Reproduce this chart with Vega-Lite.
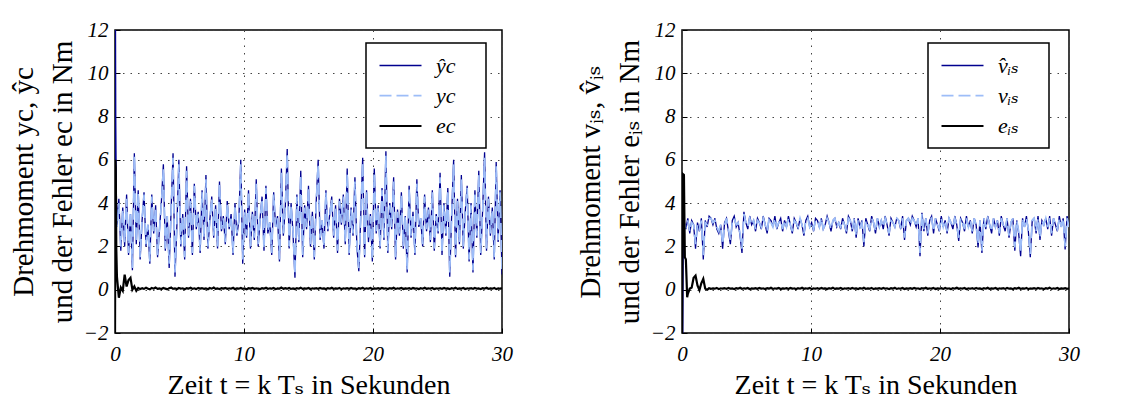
{
"$schema": "https://vega.github.io/schema/vega-lite/v6.json",
"padding": {"left": 8, "top": 18, "right": 5, "bottom": 0},
"spacing": 180,
"bounds": "flush",
"datasets": {
"left": [
{"t":0,"a":-3,"b":3.2,"e":-2.5},{"t":0.03,"a":14,"e":6.0},{"t":0.06,"a":7.8,"e":5.6},{"t":0.1,"a":4.6,"b":3.3,"e":1.9},
{"t":0.15,"a":3.0,"b":2.9,"e":0.6},{"t":0.3,"a":4.2,"b":4.0,"e":-0.37},{"t":0.45,"a":1.8,"b":2.0,"e":0.1},{"t":0.6,"a":3.8,"b":3.7,"e":-0.05},{"t":0.75,"a":2.0,"b":2.2,"e":0.7},
{"t":0.9,"a":4.4,"b":4.2,"e":0.15},{"t":1.05,"a":1.6,"b":1.7,"e":0.45},{"t":1.2,"a":3.5,"b":3.6,"e":0.55},{"t":1.35,"a":0.9,"b":1.0,"e":0.0},{"t":1.5,"a":6.3,"b":6.2,"e":0.15},
{"t":1.65,"a":2.1,"b":2.2,"e":-0.05},{"t":1.8,"a":4.6,"b":4.5,"e":0.08},{"t":1.95,"a":1.4,"b":1.5,"e":0.03},{"t":2.1,"a":3.2,"b":3.3,"e":0.07},{"t":2.25,"a":4.5,"b":4.4,"e":0.04},
{"t":2.4,"a":2.0,"b":2.1,"e":0.09},{"t":2.55,"a":3.0,"b":3.0,"e":0.05},{"t":2.7,"a":1.2,"b":1.3,"e":0.02},{"t":2.85,"a":4.4,"b":4.3,"e":0.08},{"t":3.0,"a":2.6,"b":2.7,"e":0.05},
{"t":3.15,"a":3.9,"b":3.8,"e":0.1},{"t":3.3,"a":1.5,"b":1.6,"e":0.04},{"t":3.45,"a":2.8,"b":2.8,"e":0.06},{"t":3.6,"a":4.1,"b":4.0,"e":0.03},{"t":3.75,"a":5.8,"b":5.6,"e":0.08},
{"t":3.9,"a":1.8,"b":1.9,"e":0.05},{"t":4.05,"a":3.4,"b":3.4,"e":0.02},{"t":4.2,"a":1.0,"b":1.2,"e":0.07},{"t":4.35,"a":3.7,"b":3.6,"e":0.1},{"t":4.5,"a":6.3,"b":6.1,"e":0.04},
{"t":4.65,"a":0.6,"b":0.8,"e":0.06},{"t":4.8,"a":3.0,"b":3.1,"e":0.03},{"t":4.95,"a":6.0,"b":5.8,"e":0.08},{"t":5.1,"a":2.0,"b":2.1,"e":0.05},{"t":5.25,"a":3.5,"b":3.4,"e":0.06},
{"t":5.4,"a":1.4,"b":1.5,"e":0.02},{"t":5.55,"a":5.7,"b":5.5,"e":0.07},{"t":5.7,"a":2.4,"b":2.5,"e":0.05},{"t":5.85,"a":4.2,"b":4.1,"e":0.09},{"t":6.0,"a":1.6,"b":1.7,"e":0.04},
{"t":6.15,"a":4.9,"b":4.8,"e":0.06},{"t":6.3,"a":2.8,"b":2.9,"e":0.03},{"t":6.45,"a":3.6,"b":3.5,"e":0.08},{"t":6.6,"a":1.7,"b":1.8,"e":0.05},{"t":6.75,"a":4.6,"b":4.5,"e":0.07},
{"t":6.9,"a":2.3,"b":2.4,"e":0.04},{"t":7.05,"a":5.3,"b":5.1,"e":0.06},{"t":7.2,"a":1.9,"b":2.0,"e":0.02},{"t":7.35,"a":3.2,"b":3.2,"e":0.08},{"t":7.5,"a":4.3,"b":4.2,"e":0.05},
{"t":7.65,"a":2.4,"b":2.5,"e":0.1},{"t":7.8,"a":3.9,"b":3.8,"e":0.04},{"t":7.95,"a":1.9,"b":2.0,"e":0.06},{"t":8.1,"a":5.0,"b":4.9,"e":0.03},{"t":8.25,"a":2.7,"b":2.8,"e":0.07},
{"t":8.4,"a":3.4,"b":3.3,"e":0.05},{"t":8.55,"a":2.1,"b":2.2,"e":0.08},{"t":8.7,"a":4.1,"b":4.0,"e":0.04},{"t":8.85,"a":2.8,"b":2.9,"e":0.06},{"t":9.0,"a":3.5,"b":3.4,"e":0.05},
{"t":9.15,"a":1.6,"b":1.7,"e":0.09},{"t":9.3,"a":4.0,"b":3.9,"e":0.03},{"t":9.45,"a":2.5,"b":2.6,"e":0.06},{"t":9.6,"a":3.2,"b":3.2,"e":0.05},{"t":9.75,"a":6.0,"b":5.8,"e":0.08},
{"t":9.9,"a":1.2,"b":1.4,"e":0.04},{"t":10.05,"a":3.7,"b":3.6,"e":0.06},{"t":10.2,"a":2.4,"b":2.5,"e":0.02},{"t":10.35,"a":4.6,"b":4.5,"e":0.07},{"t":10.5,"a":1.9,"b":2.0,"e":0.05},
{"t":10.65,"a":3.6,"b":3.5,"e":0.08},{"t":10.8,"a":2.3,"b":2.4,"e":0.04},{"t":10.95,"a":5.1,"b":4.9,"e":0.06},{"t":11.1,"a":2.0,"b":2.1,"e":0.05},{"t":11.25,"a":3.3,"b":3.3,"e":0.03},
{"t":11.4,"a":4.3,"b":4.2,"e":0.07},{"t":11.55,"a":1.8,"b":1.9,"e":0.05},{"t":11.7,"a":4.8,"b":4.7,"e":0.09},{"t":11.85,"a":2.6,"b":2.7,"e":0.04},{"t":12.0,"a":3.1,"b":3.1,"e":0.06},
{"t":12.15,"a":1.6,"b":1.7,"e":0.05},{"t":12.3,"a":4.5,"b":4.4,"e":0.08},{"t":12.45,"a":2.9,"b":2.9,"e":0.03},{"t":12.6,"a":3.4,"b":3.3,"e":0.06},{"t":12.75,"a":1.3,"b":1.4,"e":0.05},
{"t":12.9,"a":5.6,"b":5.4,"e":0.1},{"t":13.05,"a":2.5,"b":2.6,"e":0.04},{"t":13.2,"a":3.8,"b":3.7,"e":0.07},{"t":13.35,"a":6.5,"b":6.3,"e":0.05},{"t":13.5,"a":1.9,"b":2.0,"e":0.08},
{"t":13.65,"a":4.0,"b":3.9,"e":0.04},{"t":13.8,"a":2.6,"b":2.7,"e":0.06},{"t":13.95,"a":0.55,"b":0.7,"e":0.03},{"t":14.1,"a":4.4,"b":4.3,"e":0.07},{"t":14.25,"a":2.2,"b":2.3,"e":0.05},
{"t":14.4,"a":5.5,"b":5.3,"e":0.09},{"t":14.55,"a":1.5,"b":1.6,"e":0.04},{"t":14.7,"a":3.9,"b":3.8,"e":0.06},{"t":14.85,"a":2.8,"b":2.9,"e":0.05},{"t":15.0,"a":4.8,"b":4.7,"e":0.08},
{"t":15.15,"a":2.0,"b":2.1,"e":0.03},{"t":15.3,"a":3.6,"b":3.5,"e":0.06},{"t":15.45,"a":1.4,"b":1.5,"e":0.05},{"t":15.6,"a":4.1,"b":4.0,"e":0.07},{"t":15.75,"a":6.0,"b":5.8,"e":0.04},
{"t":15.9,"a":2.3,"b":2.4,"e":0.08},{"t":16.05,"a":3.2,"b":3.2,"e":0.05},{"t":16.2,"a":1.9,"b":2.0,"e":0.06},{"t":16.35,"a":4.6,"b":4.5,"e":0.03},{"t":16.5,"a":2.7,"b":2.8,"e":0.07},
{"t":16.65,"a":3.5,"b":3.4,"e":0.05},{"t":16.8,"a":4.3,"b":4.2,"e":0.09},{"t":16.95,"a":2.4,"b":2.5,"e":0.04},{"t":17.1,"a":3.9,"b":3.8,"e":0.06},{"t":17.25,"a":1.7,"b":1.8,"e":0.05},
{"t":17.4,"a":4.2,"b":4.1,"e":0.08},{"t":17.55,"a":3.0,"b":3.1,"e":0.03},{"t":17.7,"a":4.4,"b":4.3,"e":0.06},{"t":17.85,"a":2.1,"b":2.2,"e":0.05},{"t":18.0,"a":5.6,"b":5.4,"e":0.07},
{"t":18.15,"a":1.6,"b":1.7,"e":0.04},{"t":18.3,"a":3.8,"b":3.7,"e":0.08},{"t":18.45,"a":2.5,"b":2.6,"e":0.05},{"t":18.6,"a":5.2,"b":5.0,"e":0.06},{"t":18.75,"a":2.0,"b":2.1,"e":0.03},
{"t":18.9,"a":0.85,"b":1.0,"e":0.07},{"t":19.05,"a":3.4,"b":3.4,"e":0.05},{"t":19.2,"a":6.1,"b":5.9,"e":0.09},{"t":19.35,"a":1.5,"b":1.6,"e":0.04},{"t":19.5,"a":4.6,"b":4.5,"e":0.06},
{"t":19.65,"a":2.2,"b":2.3,"e":0.05},{"t":19.8,"a":3.5,"b":3.4,"e":0.08},{"t":19.95,"a":1.3,"b":1.4,"e":0.03},{"t":20.1,"a":5.6,"b":5.4,"e":0.06},{"t":20.25,"a":2.6,"b":2.7,"e":0.05},
{"t":20.4,"a":3.9,"b":3.8,"e":0.07},{"t":20.55,"a":1.9,"b":2.0,"e":0.04},{"t":20.7,"a":4.7,"b":4.6,"e":0.08},{"t":20.85,"a":2.3,"b":2.4,"e":0.05},{"t":21.0,"a":6.4,"b":6.2,"e":0.06},
{"t":21.15,"a":1.7,"b":1.8,"e":0.03},{"t":21.3,"a":4.0,"b":3.9,"e":0.07},{"t":21.45,"a":2.8,"b":2.9,"e":0.05},{"t":21.6,"a":5.2,"b":5.0,"e":0.09},{"t":21.75,"a":1.4,"b":1.5,"e":0.04},
{"t":21.9,"a":3.7,"b":3.6,"e":0.06},{"t":22.05,"a":2.5,"b":2.6,"e":0.05},{"t":22.2,"a":4.5,"b":4.4,"e":0.08},{"t":22.35,"a":1.9,"b":2.0,"e":0.03},{"t":22.5,"a":3.4,"b":3.4,"e":0.06},
{"t":22.65,"a":0.8,"b":0.9,"e":0.05},{"t":22.8,"a":4.8,"b":4.7,"e":0.07},{"t":22.95,"a":2.4,"b":2.5,"e":0.04},{"t":23.1,"a":3.6,"b":3.5,"e":0.08},{"t":23.25,"a":1.6,"b":1.7,"e":0.05},
{"t":23.4,"a":5.1,"b":4.9,"e":0.06},{"t":23.55,"a":2.9,"b":3.0,"e":0.03},{"t":23.7,"a":3.3,"b":3.3,"e":0.07},{"t":23.85,"a":2.0,"b":2.1,"e":0.05},{"t":24.0,"a":4.4,"b":4.3,"e":0.09},
{"t":24.15,"a":2.7,"b":2.8,"e":0.04},{"t":24.3,"a":3.8,"b":3.7,"e":0.06},{"t":24.45,"a":2.2,"b":2.3,"e":0.05},{"t":24.6,"a":4.6,"b":4.5,"e":0.08},{"t":24.75,"a":1.8,"b":1.9,"e":0.03},
{"t":24.9,"a":3.5,"b":3.4,"e":0.06},{"t":25.05,"a":2.6,"b":2.7,"e":0.05},{"t":25.2,"a":5.4,"b":5.2,"e":0.07},{"t":25.35,"a":1.6,"b":1.7,"e":0.04},{"t":25.5,"a":4.0,"b":3.9,"e":0.08},
{"t":25.65,"a":2.5,"b":2.6,"e":0.05},{"t":25.8,"a":4.7,"b":4.6,"e":0.06},{"t":25.95,"a":0.6,"b":0.8,"e":0.03},{"t":26.1,"a":3.5,"b":3.4,"e":0.07},{"t":26.25,"a":6.0,"b":5.8,"e":0.05},
{"t":26.4,"a":1.5,"b":1.6,"e":0.09},{"t":26.55,"a":4.2,"b":4.1,"e":0.04},{"t":26.7,"a":2.1,"b":2.2,"e":0.06},{"t":26.85,"a":5.3,"b":5.1,"e":0.05},{"t":27.0,"a":1.9,"b":2.0,"e":0.08},
{"t":27.15,"a":3.6,"b":3.5,"e":0.03},{"t":27.3,"a":4.8,"b":4.7,"e":0.06},{"t":27.45,"a":1.3,"b":1.4,"e":0.05},{"t":27.6,"a":4.0,"b":3.9,"e":0.07},{"t":27.75,"a":0.8,"b":0.9,"e":0.04},
{"t":27.9,"a":4.6,"b":4.5,"e":0.08},{"t":28.05,"a":2.4,"b":2.5,"e":0.05},{"t":28.2,"a":5.5,"b":5.3,"e":0.06},{"t":28.35,"a":1.6,"b":1.7,"e":0.03},{"t":28.5,"a":3.7,"b":3.6,"e":0.07},
{"t":28.65,"a":6.35,"b":6.1,"e":0.05},{"t":28.8,"a":1.8,"b":1.9,"e":0.09},{"t":28.95,"a":4.3,"b":4.2,"e":0.04},{"t":29.1,"a":2.5,"b":2.6,"e":0.06},{"t":29.25,"a":3.8,"b":3.7,"e":0.05},
{"t":29.4,"a":1.4,"b":1.5,"e":0.08},{"t":29.55,"a":5.9,"b":5.7,"e":0.03},{"t":29.7,"a":2.2,"b":2.3,"e":0.06},{"t":29.85,"a":4.6,"b":4.5,"e":0.05},{"t":30.0,"a":0.7,"b":0.9,"e":0.07}
],
"right": [
{"t":0,"a":3.8,"b":3.4,"e":-2.5},{"t":0.06,"a":-2.6,"e":5.35},{"t":0.11,"a":3.5,"b":3.3},
{"t":0.15,"a":3.2,"b":3.1,"e":5.3},{"t":0.22,"e":1.5},{"t":0.3,"a":2.8,"b":2.9,"e":1.4},{"t":0.4,"e":-0.35},{"t":0.45,"a":3.3,"b":3.2,"e":-0.2},{"t":0.6,"a":2.6,"b":2.7,"e":0.05},{"t":0.75,"a":3.2,"b":3.1,"e":0.1},
{"t":0.9,"a":3.0,"b":3.0,"e":0.55},{"t":1.05,"a":1.9,"b":2.1,"e":0.65},{"t":1.2,"a":3.1,"b":3.0,"e":0.2},{"t":1.35,"a":2.7,"b":2.8,"e":-0.02},{"t":1.5,"a":3.3,"b":3.2,"e":0.3},
{"t":1.65,"a":1.4,"b":1.6,"e":0.5},{"t":1.8,"a":3.2,"b":3.1,"e":0.05},{"t":1.95,"a":2.9,"b":3.0,"e":0.0},{"t":2.1,"a":3.4,"b":3.3,"e":0.07},{"t":2.25,"a":3.3,"b":3.3,"e":0.04},
{"t":2.4,"a":3.0,"b":3.1,"e":0.06},{"t":2.55,"a":3.3,"b":3.2,"e":0.05},{"t":2.7,"a":2.8,"b":2.9,"e":0.08},{"t":2.85,"a":2.6,"b":2.7,"e":0.03},{"t":3.0,"a":3.0,"b":3.0,"e":0.06},
{"t":3.15,"a":1.9,"b":2.1,"e":0.05},{"t":3.3,"a":3.1,"b":3.0,"e":0.07},{"t":3.45,"a":3.3,"b":3.3,"e":0.04},{"t":3.6,"a":2.7,"b":2.8,"e":0.08},{"t":3.75,"a":2.1,"b":2.3,"e":0.05},
{"t":3.9,"a":3.2,"b":3.1,"e":0.06},{"t":4.05,"a":3.4,"b":3.3,"e":0.03},{"t":4.2,"a":2.9,"b":3.0,"e":0.07},{"t":4.35,"a":3.1,"b":3.1,"e":0.05},{"t":4.5,"a":2.5,"b":2.6,"e":0.09},
{"t":4.65,"a":1.7,"b":1.9,"e":0.04},{"t":4.8,"a":3.6,"b":3.5,"e":0.06},{"t":4.95,"a":3.1,"b":3.1,"e":0.05},{"t":5.1,"a":2.8,"b":2.9,"e":0.08},{"t":5.25,"a":3.4,"b":3.3,"e":0.03},
{"t":5.4,"a":3.0,"b":3.0,"e":0.06},{"t":5.55,"a":3.2,"b":3.2,"e":0.05},{"t":5.7,"a":2.7,"b":2.8,"e":0.07},{"t":5.85,"a":3.3,"b":3.2,"e":0.04},{"t":6.0,"a":3.1,"b":3.1,"e":0.08},
{"t":6.15,"a":2.8,"b":2.9,"e":0.05},{"t":6.3,"a":3.4,"b":3.3,"e":0.06},{"t":6.45,"a":3.0,"b":3.0,"e":0.03},{"t":6.6,"a":2.6,"b":2.7,"e":0.07},{"t":6.75,"a":3.3,"b":3.3,"e":0.05},
{"t":6.9,"a":3.2,"b":3.1,"e":0.09},{"t":7.05,"a":2.9,"b":2.9,"e":0.04},{"t":7.2,"a":3.4,"b":3.3,"e":0.06},{"t":7.35,"a":2.8,"b":2.9,"e":0.05},{"t":7.5,"a":3.1,"b":3.1,"e":0.08},
{"t":7.65,"a":3.3,"b":3.2,"e":0.03},{"t":7.8,"a":2.7,"b":2.8,"e":0.06},{"t":7.95,"a":3.2,"b":3.2,"e":0.05},{"t":8.1,"a":2.9,"b":2.9,"e":0.07},{"t":8.25,"a":3.4,"b":3.3,"e":0.04},
{"t":8.4,"a":3.0,"b":3.0,"e":0.08},{"t":8.55,"a":2.6,"b":2.7,"e":0.05},{"t":8.7,"a":3.3,"b":3.2,"e":0.06},{"t":8.85,"a":3.1,"b":3.1,"e":0.03},{"t":9.0,"a":2.8,"b":2.9,"e":0.07},
{"t":9.15,"a":3.3,"b":3.3,"e":0.05},{"t":9.3,"a":3.0,"b":3.0,"e":0.09},{"t":9.45,"a":2.5,"b":2.6,"e":0.04},{"t":9.6,"a":3.2,"b":3.2,"e":0.06},{"t":9.75,"a":3.4,"b":3.3,"e":0.05},
{"t":9.9,"a":2.9,"b":2.9,"e":0.08},{"t":10.05,"a":3.1,"b":3.1,"e":0.03},{"t":10.2,"a":2.7,"b":2.8,"e":0.06},{"t":10.35,"a":3.3,"b":3.2,"e":0.05},{"t":10.5,"a":3.2,"b":3.2,"e":0.07},
{"t":10.65,"a":2.9,"b":2.9,"e":0.04},{"t":10.8,"a":3.3,"b":3.3,"e":0.08},{"t":10.95,"a":2.8,"b":2.8,"e":0.05},{"t":11.1,"a":3.0,"b":3.0,"e":0.06},{"t":11.25,"a":3.4,"b":3.3,"e":0.03},
{"t":11.4,"a":3.1,"b":3.1,"e":0.07},{"t":11.55,"a":2.7,"b":2.8,"e":0.05},{"t":11.7,"a":3.2,"b":3.2,"e":0.09},{"t":11.85,"a":3.3,"b":3.3,"e":0.04},{"t":12.0,"a":2.9,"b":2.9,"e":0.06},
{"t":12.15,"a":3.1,"b":3.1,"e":0.05},{"t":12.3,"a":2.8,"b":2.9,"e":0.08},{"t":12.45,"a":3.3,"b":3.2,"e":0.03},{"t":12.6,"a":3.0,"b":3.0,"e":0.06},{"t":12.75,"a":2.6,"b":2.7,"e":0.05},
{"t":12.9,"a":3.4,"b":3.3,"e":0.07},{"t":13.05,"a":3.2,"b":3.2,"e":0.04},{"t":13.2,"a":2.7,"b":2.8,"e":0.08},{"t":13.35,"a":3.3,"b":3.3,"e":0.05},{"t":13.5,"a":2.4,"b":2.5,"e":0.06},
{"t":13.65,"a":3.3,"b":3.2,"e":0.03},{"t":13.8,"a":2.9,"b":2.9,"e":0.07},{"t":13.95,"a":3.2,"b":3.1,"e":0.05},{"t":14.1,"a":2.0,"b":2.2,"e":0.09},{"t":14.25,"a":3.3,"b":3.2,"e":0.04},
{"t":14.4,"a":3.0,"b":3.0,"e":0.06},{"t":14.55,"a":2.7,"b":2.8,"e":0.05},{"t":14.7,"a":3.4,"b":3.3,"e":0.08},{"t":14.85,"a":3.1,"b":3.1,"e":0.03},{"t":15.0,"a":2.6,"b":2.7,"e":0.06},
{"t":15.15,"a":3.3,"b":3.3,"e":0.05},{"t":15.3,"a":2.9,"b":2.9,"e":0.07},{"t":15.45,"a":3.2,"b":3.2,"e":0.04},{"t":15.6,"a":2.8,"b":2.9,"e":0.08},{"t":15.75,"a":3.4,"b":3.3,"e":0.05},
{"t":15.9,"a":3.0,"b":3.0,"e":0.06},{"t":16.05,"a":2.5,"b":2.6,"e":0.03},{"t":16.2,"a":3.3,"b":3.2,"e":0.07},{"t":16.35,"a":3.1,"b":3.1,"e":0.05},{"t":16.5,"a":2.9,"b":2.9,"e":0.09},
{"t":16.65,"a":3.3,"b":3.3,"e":0.04},{"t":16.8,"a":3.2,"b":3.2,"e":0.06},{"t":16.95,"a":2.8,"b":2.9,"e":0.05},{"t":17.1,"a":3.4,"b":3.3,"e":0.08},{"t":17.25,"a":2.3,"b":2.4,"e":0.03},
{"t":17.4,"a":3.2,"b":3.2,"e":0.06},{"t":17.55,"a":3.3,"b":3.3,"e":0.05},{"t":17.7,"a":3.0,"b":3.0,"e":0.07},{"t":17.85,"a":3.4,"b":3.3,"e":0.04},{"t":18.0,"a":3.2,"b":3.2,"e":0.08},
{"t":18.15,"a":2.9,"b":2.9,"e":0.05},{"t":18.3,"a":3.3,"b":3.3,"e":0.06},{"t":18.45,"a":1.55,"b":1.7,"e":0.03},{"t":18.6,"a":3.55,"b":3.5,"e":0.07},{"t":18.75,"a":2.7,"b":2.8,"e":0.05},
{"t":18.9,"a":3.3,"b":3.3,"e":0.09},{"t":19.05,"a":2.5,"b":2.6,"e":0.04},{"t":19.2,"a":3.2,"b":3.2,"e":0.06},{"t":19.35,"a":3.4,"b":3.3,"e":0.05},{"t":19.5,"a":2.6,"b":2.7,"e":0.08},
{"t":19.65,"a":3.3,"b":3.3,"e":0.03},{"t":19.8,"a":3.0,"b":3.0,"e":0.06},{"t":19.95,"a":2.7,"b":2.8,"e":0.05},{"t":20.1,"a":3.4,"b":3.3,"e":0.07},{"t":20.25,"a":2.9,"b":2.9,"e":0.04},
{"t":20.4,"a":3.2,"b":3.2,"e":0.08},{"t":20.55,"a":2.6,"b":2.7,"e":0.05},{"t":20.7,"a":3.3,"b":3.3,"e":0.06},{"t":20.85,"a":3.1,"b":3.1,"e":0.03},{"t":21.0,"a":2.8,"b":2.9,"e":0.07},
{"t":21.15,"a":3.4,"b":3.3,"e":0.05},{"t":21.3,"a":3.0,"b":3.0,"e":0.09},{"t":21.45,"a":2.25,"b":2.4,"e":0.04},{"t":21.6,"a":3.3,"b":3.3,"e":0.06},{"t":21.75,"a":3.1,"b":3.1,"e":0.05},
{"t":21.9,"a":2.7,"b":2.8,"e":0.08},{"t":22.05,"a":3.4,"b":3.3,"e":0.03},{"t":22.2,"a":2.9,"b":2.9,"e":0.06},{"t":22.35,"a":3.2,"b":3.2,"e":0.05},{"t":22.5,"a":2.6,"b":2.7,"e":0.07},
{"t":22.65,"a":3.3,"b":3.3,"e":0.04},{"t":22.8,"a":3.0,"b":3.0,"e":0.08},{"t":22.95,"a":1.95,"b":2.1,"e":0.05},{"t":23.1,"a":3.2,"b":3.2,"e":0.06},{"t":23.25,"a":1.7,"b":1.8,"e":0.03},
{"t":23.4,"a":3.3,"b":3.3,"e":0.07},{"t":23.55,"a":2.8,"b":2.9,"e":0.05},{"t":23.7,"a":3.4,"b":3.3,"e":0.09},{"t":23.85,"a":3.0,"b":3.0,"e":0.04},{"t":24.0,"a":2.6,"b":2.7,"e":0.06},
{"t":24.15,"a":3.3,"b":3.3,"e":0.05},{"t":24.3,"a":2.9,"b":2.9,"e":0.08},{"t":24.45,"a":3.2,"b":3.2,"e":0.03},{"t":24.6,"a":2.5,"b":2.6,"e":0.06},{"t":24.75,"a":3.4,"b":3.3,"e":0.05},
{"t":24.9,"a":3.0,"b":3.0,"e":0.07},{"t":25.05,"a":2.7,"b":2.8,"e":0.04},{"t":25.2,"a":3.3,"b":3.3,"e":0.08},{"t":25.35,"a":2.4,"b":2.5,"e":0.05},{"t":25.5,"a":3.1,"b":3.1,"e":0.06},
{"t":25.65,"a":3.3,"b":3.3,"e":0.03},{"t":25.8,"a":1.8,"b":1.95,"e":0.07},{"t":25.95,"a":3.2,"b":3.2,"e":0.05},{"t":26.1,"a":2.6,"b":2.7,"e":0.09},{"t":26.25,"a":1.55,"b":1.7,"e":0.04},
{"t":26.4,"a":3.3,"b":3.3,"e":0.06},{"t":26.55,"a":2.9,"b":2.9,"e":0.05},{"t":26.7,"a":3.4,"b":3.3,"e":0.08},{"t":26.85,"a":2.7,"b":2.8,"e":0.03},{"t":27.0,"a":1.5,"b":1.65,"e":0.06},
{"t":27.15,"a":3.2,"b":3.2,"e":0.05},{"t":27.3,"a":3.3,"b":3.3,"e":0.07},{"t":27.45,"a":2.6,"b":2.7,"e":0.04},{"t":27.6,"a":3.4,"b":3.3,"e":0.08},{"t":27.75,"a":2.3,"b":2.4,"e":0.05},
{"t":27.9,"a":3.2,"b":3.2,"e":0.06},{"t":28.05,"a":3.0,"b":3.0,"e":0.03},{"t":28.2,"a":3.3,"b":3.3,"e":0.07},{"t":28.35,"a":2.8,"b":2.9,"e":0.05},{"t":28.5,"a":3.4,"b":3.3,"e":0.09},
{"t":28.65,"a":2.5,"b":2.6,"e":0.04},{"t":28.8,"a":3.3,"b":3.3,"e":0.06},{"t":28.95,"a":3.0,"b":3.0,"e":0.05},{"t":29.1,"a":2.7,"b":2.8,"e":0.08},{"t":29.25,"a":3.4,"b":3.3,"e":0.03},
{"t":29.4,"a":2.9,"b":2.9,"e":0.06},{"t":29.55,"a":3.3,"b":3.3,"e":0.05},{"t":29.7,"a":1.86,"b":2.0,"e":0.07},{"t":29.85,"a":3.4,"b":3.3,"e":0.04},{"t":30.0,"a":2.9,"b":2.9,"e":0.06}
]
},
"hconcat": [
{
"width": 387, "height": 303,
"data": {"name": "left"},
"transform": [{"fold": ["a","b","e"], "as": ["k","v"]}, {"filter": "isValid(datum.v)"}],
"mark": {"type": "line", "clip": true, "invalid": "filter"},
"encoding": {
"x": {"field": "t", "type": "quantitative", "scale": {"domain": [0,30], "nice": false, "zero": false}, "axis": {"values": [0,10,20,30], "title": "Zeit t = k Tₛ in Sekunden", "titleFontSize": 28, "titleY": 60, "titleBaseline": "alphabetic", "labelPadding": 15}},
"y": {"field": "v", "type": "quantitative", "scale": {"domain": [-2,12], "nice": false, "zero": false}, "axis": {"values": [-2,0,2,4,6,8,10,12], "title": ["Drehmoment yc, ŷc", "und der Fehler ec in Nm"], "titleX": -92, "titleY": 151.5, "titleAngle": -90, "titleAlign": "center", "titleBaseline": "middle", "titleLineHeight": 39, "labelPadding": 12}},
"color": {"field": "k", "type": "nominal", "scale": {"domain": ["a","b","e"], "range": ["#00008f","#9dbdf8","#000000"]}, "legend": {"title": "M", "orient": "none", "legendX": 251, "legendY": 13, "labelExpr": "datum.value == 'a' ? 'ŷc' : datum.value == 'b' ? 'yc' : 'ec'"}},
"strokeDash": {"field": "k", "type": "nominal", "scale": {"domain": ["a","b","e"], "range": [[1,0],[12,5],[1,0]]}, "legend": {"title": "M", "orient": "none", "legendX": 251, "legendY": 13, "labelExpr": "datum.value == 'a' ? 'ŷc' : datum.value == 'b' ? 'yc' : 'ec'"}},
"strokeWidth": {"field": "k", "type": "nominal", "scale": {"domain": ["a","b","e"], "range": [1.3,2.2,3.0]}, "legend": {"title": "M", "orient": "none", "legendX": 251, "legendY": 13, "labelExpr": "datum.value == 'a' ? 'ŷc' : datum.value == 'b' ? 'yc' : 'ec'"}}
}
},
{
"width": 387, "height": 303,
"data": {"name": "right"},
"transform": [{"fold": ["a","b","e"], "as": ["k","v"]}, {"filter": "isValid(datum.v)"}],
"mark": {"type": "line", "clip": true, "invalid": "filter"},
"encoding": {
"x": {"field": "t", "type": "quantitative", "scale": {"domain": [0,30], "nice": false, "zero": false}, "axis": {"values": [0,10,20,30], "title": "Zeit t = k Tₛ in Sekunden", "titleFontSize": 28, "titleY": 60, "titleBaseline": "alphabetic", "labelPadding": 15}},
"y": {"field": "v", "type": "quantitative", "scale": {"domain": [-2,12], "nice": false, "zero": false}, "axis": {"values": [-2,0,2,4,6,8,10,12], "title": ["Drehmoment vᵢₛ, v̂ᵢₛ", "und der Fehler eᵢₛ in Nm"], "titleX": -92, "titleY": 151.5, "titleAngle": -90, "titleAlign": "center", "titleBaseline": "middle", "titleLineHeight": 39, "labelPadding": 12}},
"color": {"field": "k", "type": "nominal", "scale": {"domain": ["a","b","e"], "range": ["#00008f","#9dbdf8","#000000"]}, "legend": {"title": "M", "orient": "none", "legendX": 246, "legendY": 13, "labelExpr": "datum.value == 'a' ? 'v̂ᵢₛ' : datum.value == 'b' ? 'vᵢₛ' : 'eᵢₛ'"}},
"strokeDash": {"field": "k", "type": "nominal", "scale": {"domain": ["a","b","e"], "range": [[1,0],[12,5],[1,0]]}, "legend": {"title": "M", "orient": "none", "legendX": 246, "legendY": 13, "labelExpr": "datum.value == 'a' ? 'v̂ᵢₛ' : datum.value == 'b' ? 'vᵢₛ' : 'eᵢₛ'"}},
"strokeWidth": {"field": "k", "type": "nominal", "scale": {"domain": ["a","b","e"], "range": [1.3,2.2,3.0]}, "legend": {"title": "M", "orient": "none", "legendX": 246, "legendY": 13, "labelExpr": "datum.value == 'a' ? 'v̂ᵢₛ' : datum.value == 'b' ? 'vᵢₛ' : 'eᵢₛ'"}}
}
}
],
"resolve": {"scale": {"color": "independent", "strokeDash": "independent", "strokeWidth": "independent"}, "legend": {"color": "independent", "strokeDash": "independent", "strokeWidth": "independent"}},
"config": {
"font": "'Liberation Serif', 'DejaVu Serif', serif",
"background": "white",
"view": {"stroke": "black", "strokeWidth": 1.5},
"axis": {"labelFont": "'Liberation Serif', 'DejaVu Serif', serif", "labelFontStyle": "italic", "labelFontSize": 21, "labelColor": "black", "titleFont": "'Liberation Serif', 'DejaVu Serif', serif", "titleFontSize": 29, "titleFontWeight": "normal", "titleColor": "black", "grid": true, "gridColor": "#444444", "gridDash": [1.5,6], "gridOpacity": 1, "gridWidth": 1, "domain": false, "ticks": true, "tickColor": "black", "tickSize": -5, "labelFlush": false, "labelOverlap": false, "labelBound": false},
"legend": {"symbolType": "M-2,0H2", "symbolSize": 441, "symbolOffset": 11.5, "labelFont": "'Liberation Serif', 'DejaVu Serif', serif", "labelFontStyle": "italic", "labelFontSize": 22, "labelColor": "black", "labelOffset": 23.5, "padding": 11, "rowPadding": 7, "strokeColor": "black", "fillColor": "white", "strokeWidth": 1.5, "cornerRadius": 0, "titleOrient": "right", "titleFontSize": 21, "titleFont": "'Liberation Serif', 'DejaVu Serif', serif", "titleFontWeight": "normal", "titleOpacity": 0, "titlePadding": 0, "titleBaseline": "top"}
}
}
